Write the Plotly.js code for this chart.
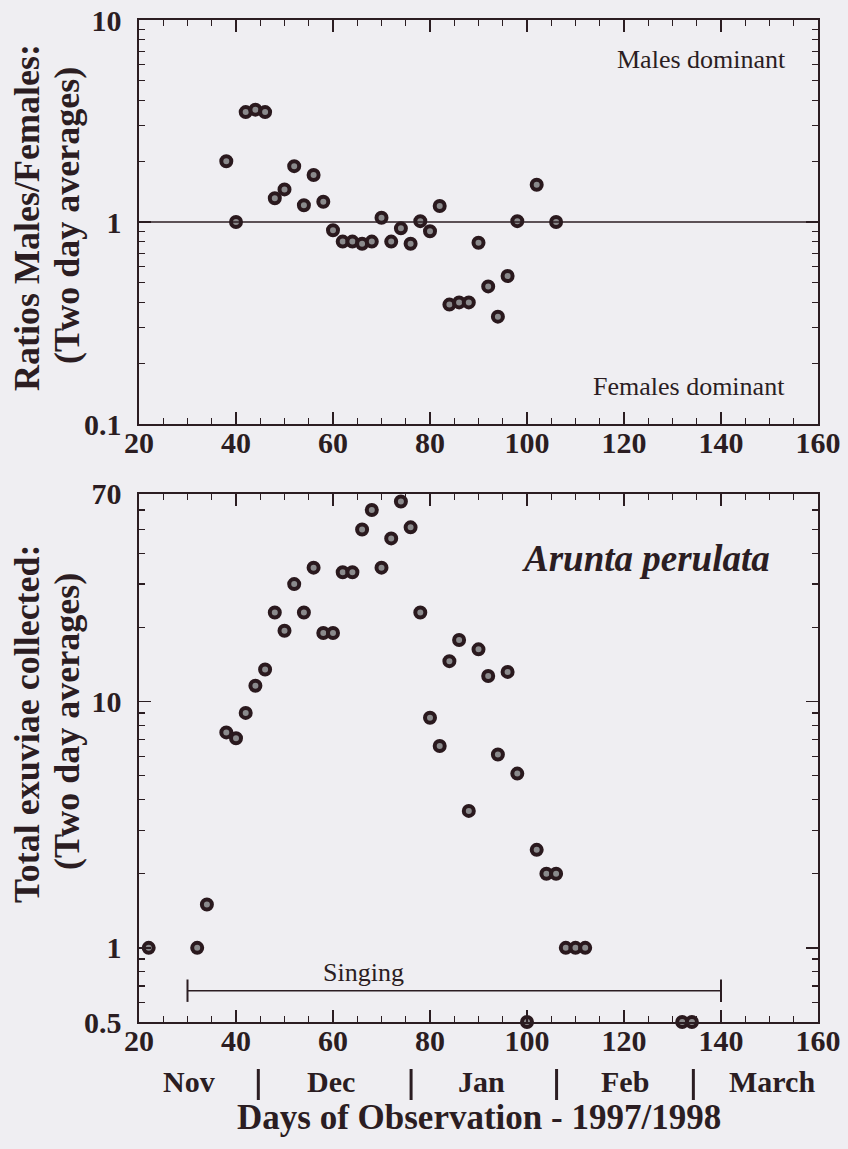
<!DOCTYPE html>
<html>
<head>
<meta charset="utf-8">
<script src="https://cdn.plot.ly/plotly-3.0.1.min.js"></script>
<style>
  html, body { margin: 0; padding: 0; background: #efeef2; }
  #chart { width: 848px; height: 1149px; }
</style>
</head>
<body>
<div id="chart"></div>
<script>
// ---- data ----
const ratioDays   = [38, 40, 42, 44, 46, 48, 50, 52, 54, 56, 58, 60, 62, 64, 66, 68, 70, 72, 74, 76, 78, 80, 82, 84, 86, 88, 90, 92, 94, 96, 98, 102, 106];
const ratioValues = [2.0, 1.0, 3.5, 3.6, 3.5, 1.31, 1.45, 1.89, 1.21, 1.71, 1.26, 0.91, 0.80, 0.80, 0.78, 0.80, 1.05, 0.80, 0.93, 0.78, 1.01, 0.90, 1.20, 0.39, 0.40, 0.40, 0.79, 0.48, 0.34, 0.54, 1.01, 1.53, 1.0];

const totalDays   = [22, 32, 34, 38, 40, 42, 44, 46, 48, 50, 52, 54, 56, 58, 60, 62, 64, 66, 68, 70, 72, 74, 76, 78, 80, 82, 84, 86, 88, 90, 92, 94, 96, 98, 100, 102, 104, 106, 108, 110, 112, 132, 134];
const totalValues = [1.0, 1.0, 1.5, 7.5, 7.1, 9.0, 11.6, 13.5, 23, 19.4, 30, 23, 35, 19, 19, 33.5, 33.5, 50, 60, 35, 46, 65, 51, 23, 8.6, 6.6, 14.6, 17.8, 3.6, 16.3, 12.7, 6.1, 13.2, 5.1, 0.5, 2.5, 2.0, 2.0, 1.0, 1.0, 1.0, 0.5, 0.5];

const xTickVals = [20, 40, 60, 80, 100, 120, 140, 160];
const ratioTickVals = [0.1, 1, 10];
const ratioTickText = ['0.1', '1', '10'];
const ratioMinor = [0.2, 0.3, 0.4, 0.5, 0.6, 0.7, 0.8, 0.9, 2, 3, 4, 5, 6, 7, 8, 9];
const totalTickVals = [0.5, 1, 10, 70];
const totalTickText = ['0.5', '1', '10', '70'];
const totalMinor = [0.6, 0.7, 0.8, 0.9, 2, 3, 4, 5, 6, 7, 8, 9, 20, 30, 40, 50, 60];

const monthNames  = ['Nov', 'Dec', 'Jan', 'Feb', 'March'];
const monthMid    = [30.4, 59.6, 90.7, 120.2, 150.5];
const monthBreaks = [44.6, 76.1, 106.1, 134.3];

const singingDays  = [30, 140];
const singingLevel = [0.67, 0.67];
const equalRatio = 1;

// ---- styles ----
const ink = '#2b1d22';
const bg = '#efeef2';
const serif = "'Liberation Serif', 'Times New Roman', serif";
const serifRegular = "'Liberation Serif', 'Noto Serif', 'DejaVu Serif', serif";
const markerStyle = { size: 10, color: '#8a8a8c', line: { color: '#2a191e', width: 4 } };

const traces = [
  { x: ratioDays, y: ratioValues, xaxis: 'x2', yaxis: 'y2', mode: 'markers',
    marker: markerStyle, cliponaxis: false, hoverinfo: 'x+y' },
  { x: totalDays, y: totalValues, xaxis: 'x', yaxis: 'y', mode: 'markers',
    marker: markerStyle, cliponaxis: false, hoverinfo: 'x+y' },
  { x: singingDays, y: singingLevel, xaxis: 'x', yaxis: 'y', mode: 'lines+markers',
    line: { color: ink, width: 1.6 },
    marker: { symbol: 'line-ns-open', size: 16, line: { color: ink, width: 2 } },
    cliponaxis: false, hoverinfo: 'skip' }
];

const tickFont = { family: serif, size: 30, color: ink, weight: 'bold' };

function xAxis(anchor) {
  return {
    anchor: anchor, range: [20, 160], tickmode: 'array', tickvals: xTickVals,
    ticks: 'inside', ticklen: 12, tickwidth: 1.5, tickcolor: ink,
    showline: true, linecolor: ink, linewidth: 1.6, mirror: 'ticks',
    showgrid: false, zeroline: false, tickfont: tickFont, ticklabelstandoff: -9,
    minor: { dtick: 5, tick0: 20, ticks: 'inside', ticklen: 6, tickwidth: 1.3, tickcolor: ink, showgrid: false }
  };
}
function yAxis(domain, range, vals, text, minorVals) {
  return {
    domain: domain, type: 'log', range: range, tickmode: 'array', tickvals: vals, ticktext: text,
    ticks: 'inside', ticklen: 12, tickwidth: 1.5, tickcolor: ink,
    showline: true, linecolor: ink, linewidth: 1.6, mirror: 'ticks',
    showgrid: false, zeroline: false, tickfont: tickFont, ticklabelstandoff: 10,
    minor: { tickmode: 'array', tickvals: minorVals, ticks: 'inside', ticklen: 6, tickwidth: 1.3, tickcolor: ink, showgrid: false }
  };
}

const H0 = 20, H1 = 1022; // plot-area pixel rows
const py = p => (H1 - p) / (H1 - H0);
const L0 = 139, L1 = 818;
const px = p => (p - L0) / (L1 - L0);

const titleFont = { family: serif, size: 36, color: ink, weight: 'bold' };
const annotations = [
  { text: 'Males dominant', xref: 'paper', yref: 'paper', x: px(788), y: py(60), xanchor: 'right', yanchor: 'middle',
    showarrow: false, font: { family: serifRegular, size: 26, color: ink, weight: 'normal' } },
  { text: 'Females dominant', xref: 'paper', yref: 'paper', x: px(787), y: py(386), xanchor: 'right', yanchor: 'middle',
    showarrow: false, font: { family: serifRegular, size: 26, color: ink, weight: 'normal' } },
  { text: 'Arunta perulata', xref: 'paper', yref: 'paper', x: px(772), y: py(558), xanchor: 'right', yanchor: 'middle',
    showarrow: false, font: { family: serif, size: 37, color: ink, weight: 'bold', style: 'italic' } },
  { text: 'Singing', xref: 'x', yref: 'paper', x: 66.2, y: py(972), xanchor: 'center', yanchor: 'middle',
    showarrow: false, font: { family: serifRegular, size: 26, color: ink, weight: 'normal' } },
  { text: 'Ratios Males/Females:', xref: 'paper', yref: 'paper', x: px(27), y: py(218),
    xanchor: 'center', yanchor: 'middle', textangle: -90, showarrow: false, font: titleFont },
  { text: '(Two day averages)', xref: 'paper', yref: 'paper', x: px(67), y: py(216),
    xanchor: 'center', yanchor: 'middle', textangle: -90, showarrow: false, font: titleFont },
  { text: 'Total exuviae collected:', xref: 'paper', yref: 'paper', x: px(27), y: py(724),
    xanchor: 'center', yanchor: 'middle', textangle: -90, showarrow: false, font: titleFont },
  { text: '(Two day averages)', xref: 'paper', yref: 'paper', x: px(67), y: py(722),
    xanchor: 'center', yanchor: 'middle', textangle: -90, showarrow: false, font: titleFont },
  { text: 'Days of Observation - 1997/1998', xref: 'paper', yref: 'paper', x: px(479), y: py(1117),
    xanchor: 'center', yanchor: 'middle', showarrow: false,
    font: { family: serif, size: 35, color: ink, weight: 'bold' } }
];
monthNames.forEach((m, i) => annotations.push({
  text: m, xref: 'x', yref: 'paper', x: monthMid[i], y: py(1081), xanchor: 'center', yanchor: 'middle',
  showarrow: false, font: { family: serif, size: 30, color: ink, weight: 'bold' }
}));

const shapes = [
  { type: 'line', xref: 'x2 domain', yref: 'y2', x0: 0, x1: 1, y0: equalRatio, y1: equalRatio,
    line: { color: ink, width: 1.6 } }
];
monthBreaks.forEach(b => shapes.push({
  type: 'line', xref: 'x', yref: 'paper', x0: b, x1: b, y0: py(1069), y1: py(1100),
  line: { color: ink, width: 3 }
}));

const layout = {
  width: 848, height: 1149,
  margin: { l: L0, r: 848 - L1, t: H0, b: 1149 - H1 },
  paper_bgcolor: bg, plot_bgcolor: bg,
  showlegend: false,
  font: { family: serif, color: ink },
  xaxis: xAxis('y'),
  xaxis2: xAxis('y2'),
  yaxis: yAxis([0, py(493.5)], [Math.log10(0.5), Math.log10(70)], totalTickVals, totalTickText, totalMinor),
  yaxis2: yAxis([py(424), 1], [-1, 1], ratioTickVals, ratioTickText, ratioMinor),
  annotations: annotations,
  shapes: shapes
};

Plotly.newPlot('chart', traces, layout, { displayModeBar: false, staticPlot: true });
</script>
</body>
</html>
